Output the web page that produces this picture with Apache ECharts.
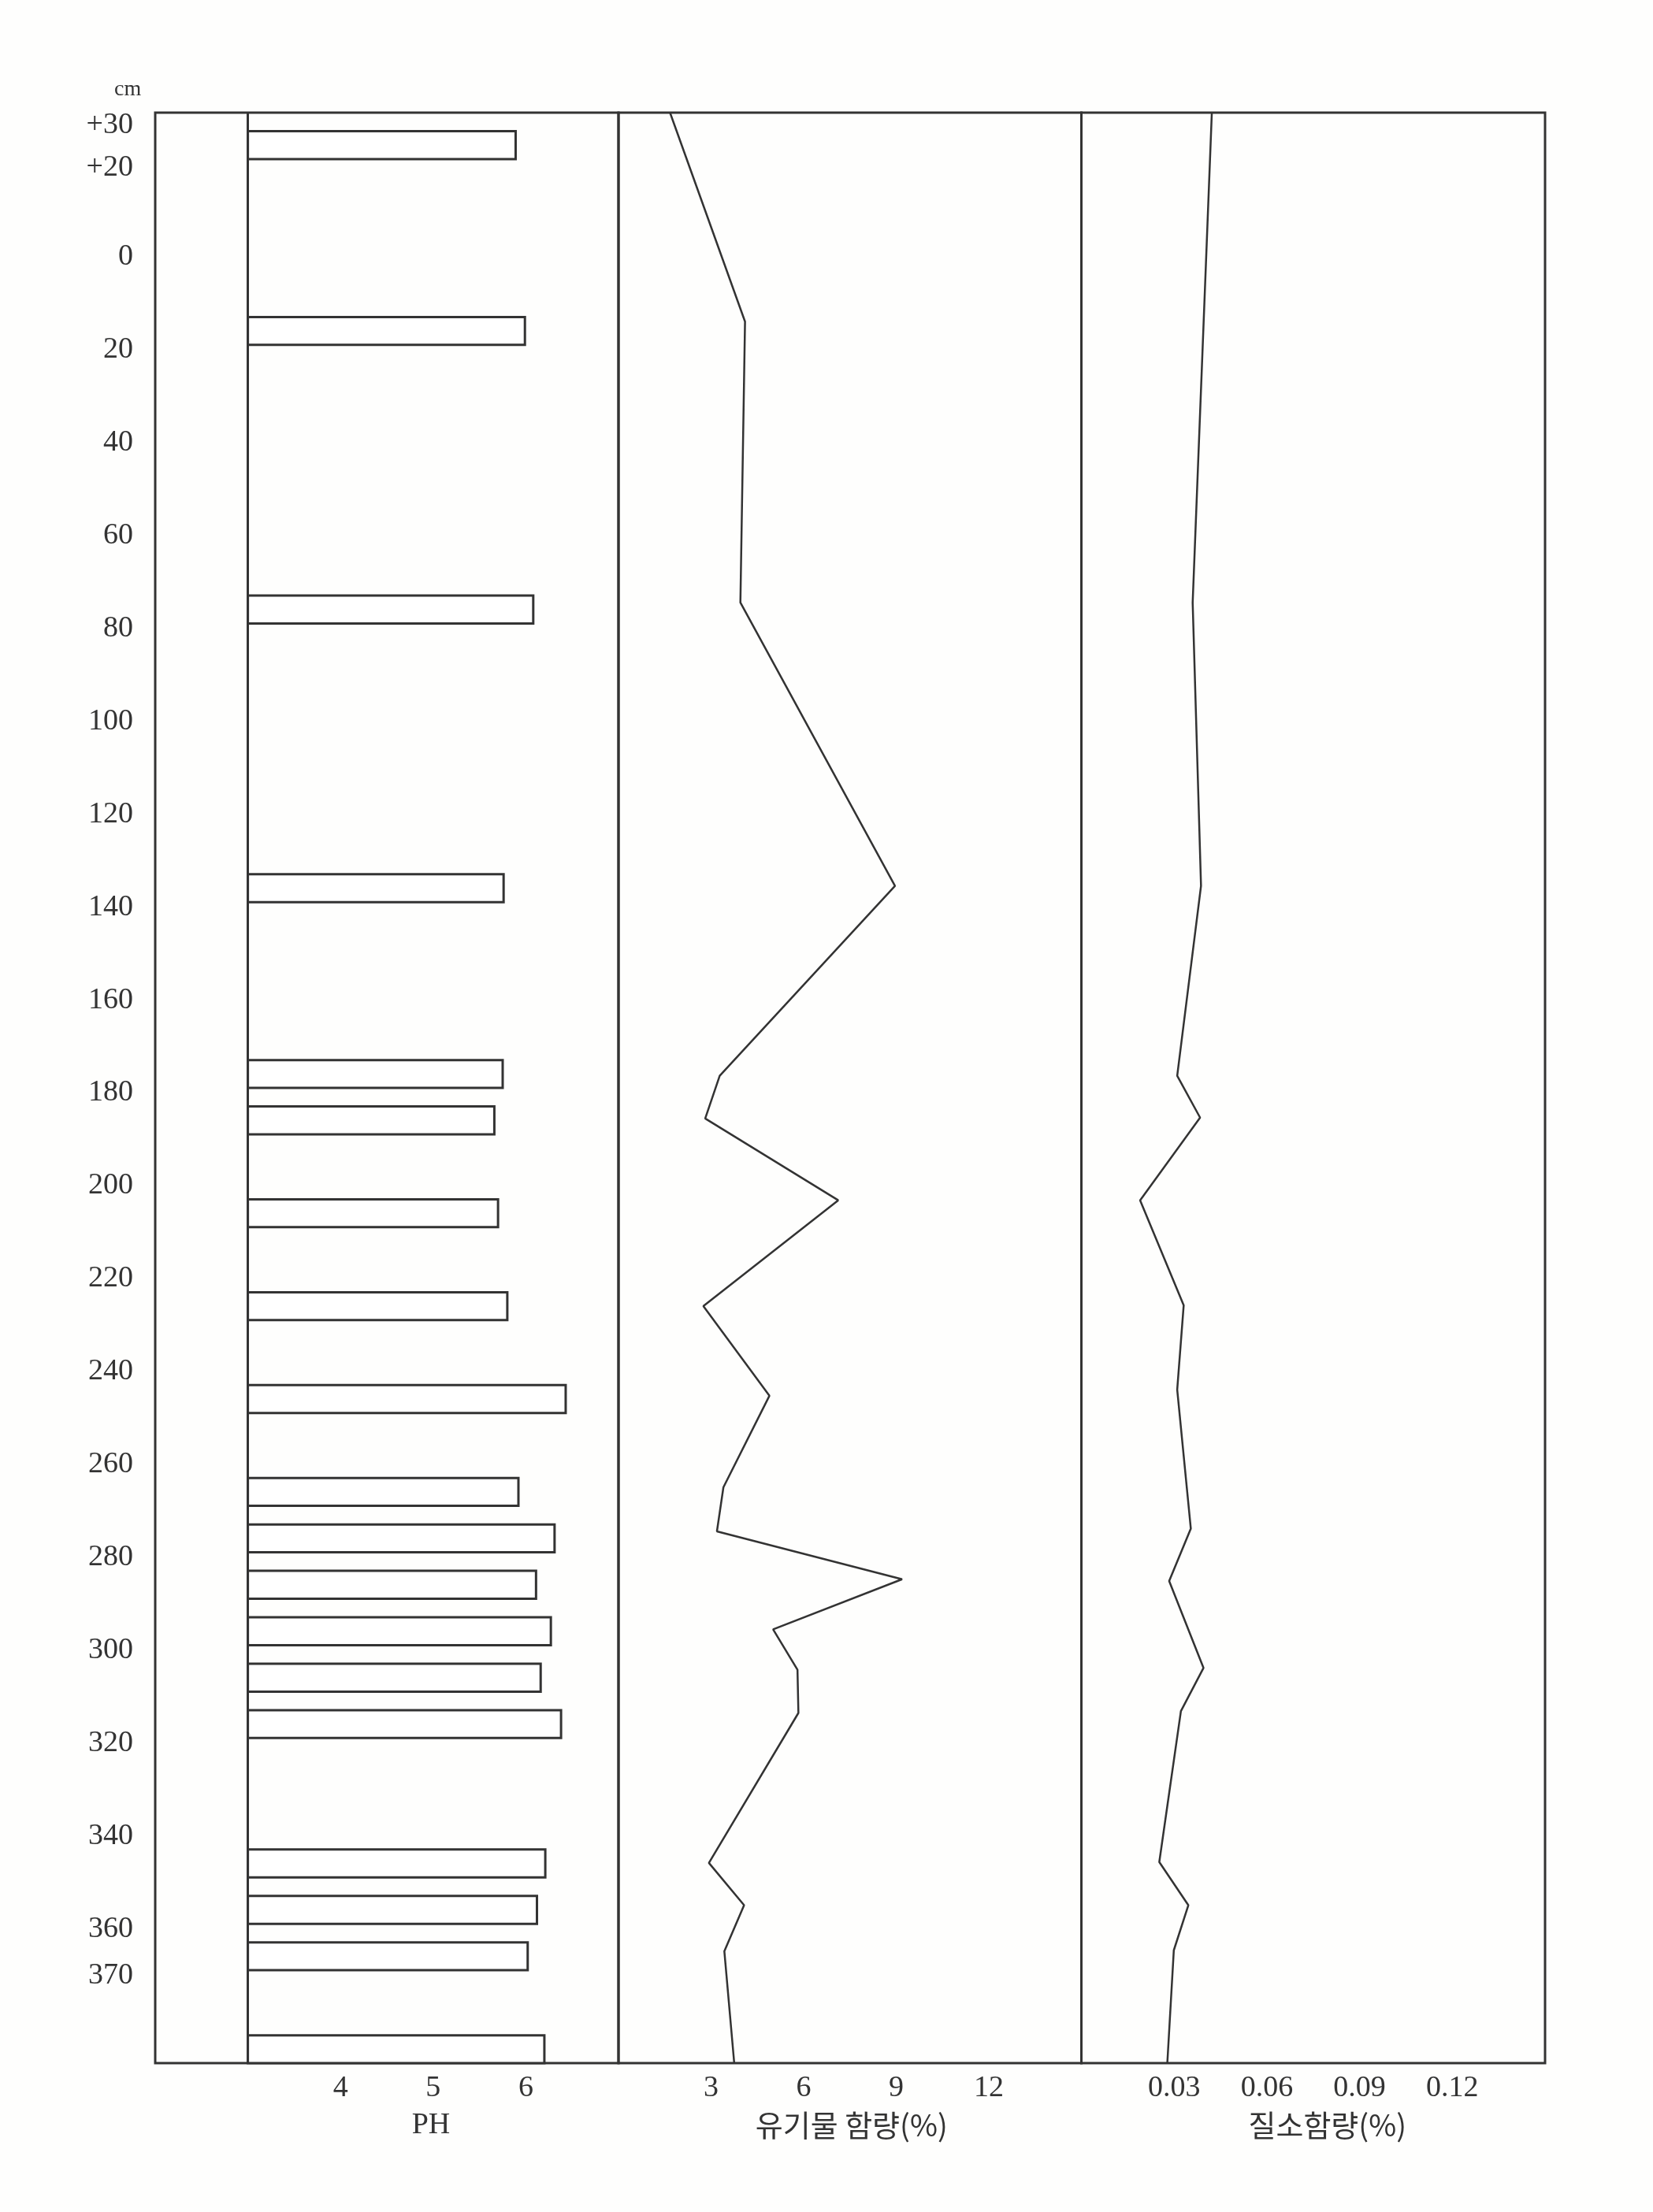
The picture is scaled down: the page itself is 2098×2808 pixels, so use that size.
<!DOCTYPE html>
<html>
<head>
<meta charset="utf-8">
<script src="https://cdn.jsdelivr.net/npm/echarts@6/dist/echarts.min.js"></script>
<style>
html,body{margin:0;padding:0;background:#fefefd;}
#chart{width:2098px;height:2808px;}
</style>
</head>
<body>
<div id="chart"></div>
<script>
// ---- Depth axis (cm; negative = above surface, shown as "+") ----
var depthMin = -30;
var depthMax = 390;
var depthTickLabels = [-30, -20, 0, 20, 40, 60, 80, 100, 120, 140, 160, 180, 200, 220, 240, 260, 280, 300, 320, 340, 360, 370];

// ---- PH samples (bars) ----
var phBase = 3;
var sampleTop    = [-26, 14, 74, 134, 174, 184, 204, 224, 244, 264, 274, 284, 294, 304, 314, 344, 354, 364, 384];
var sampleBottom = [-20, 20, 80, 140, 180, 190, 210, 230, 250, 270, 280, 290, 300, 310, 320, 350, 360, 370, 390];
var phValues     = [5.89, 5.99, 6.08, 5.76, 5.75, 5.66, 5.70, 5.80, 6.43, 5.92, 6.31, 6.11, 6.27, 6.16, 6.38, 6.21, 6.12, 6.02, 6.20];
var phTicks = [4, 5, 6];

// ---- Organic matter content (%) ----
var omDepth  = [-30, 15, 75.5, 136.5, 177.4, 186.6, 204.2, 227, 246.3, 266, 275.5, 285.8, 296.6, 305.3, 314.6, 346.9, 356, 365.9, 390];
var omValues = [1.67, 4.10, 3.95, 8.96, 3.28, 2.81, 7.12, 2.75, 4.89, 3.40, 3.19, 9.19, 5.01, 5.80, 5.83, 2.93, 4.07, 3.43, 3.75];
var omTicks = [3, 6, 9, 12];

// ---- Nitrogen content (%) ----
var nDepth  = [-30, 75.5, 136.5, 177.4, 186.4, 204.2, 226.8, 245, 274.9, 286.2, 304.9, 314.2, 346.7, 356, 365.7, 390];
var nValues = [0.0422, 0.036, 0.0387, 0.031, 0.0384, 0.019, 0.0331, 0.031, 0.0354, 0.0284, 0.0395, 0.0322, 0.0252, 0.0346, 0.0299, 0.0278];
var nTicks = [0.03, 0.06, 0.09, 0.12];

var ink = '#333333';
var serif = '"Liberation Serif", "DejaVu Serif", serif';
var kr = '"Noto Sans CJK KR", "Noto Sans", sans-serif';

var barData = sampleTop.map(function (t, i) { return [phBase, t, phValues[i], sampleBottom[i]]; });
var omData = omDepth.map(function (d, i) { return [omValues[i], d]; });
var nData = nDepth.map(function (d, i) { return [nValues[i], d]; });

var gridCommon = { top: 143, bottom: 189, show: true, borderColor: ink, borderWidth: 3, backgroundColor: 'transparent' };

function labelRich(pad) {
  return { fontFamily: serif, fontSize: 38, color: ink, padding: [pad, 0, 0, 0] };
}

function yAxisDef(idx, showLabels) {
  return {
    type: 'value', gridIndex: idx, min: depthMin, max: depthMax, inverse: true,
    axisLine: { show: false }, axisTick: { show: false }, splitLine: { show: false },
    axisLabel: {
      show: showLabels, customValues: depthTickLabels, margin: 28,
      fontFamily: serif, fontSize: 38, color: ink,
      formatter: function (v) {
        if (v === -30) return '{t|+30}';
        if (v === -20) return '{u|+20}';
        return '{n|' + v + '}';
      },
      rich: { t: labelRich(33), u: labelRich(22), n: labelRich(13) }
    }
  };
}

function xAxisDef(idx, min, max, ticks, name, nameFont, namePad, fmt) {
  return {
    type: 'value', gridIndex: idx, min: min, max: max,
    axisLine: { show: false }, axisTick: { show: false }, splitLine: { show: false },
    axisLabel: {
      customValues: ticks, margin: 13, fontFamily: serif, fontSize: 38, color: ink,
      formatter: fmt || function (v) { return String(v); }
    },
    name: name, nameLocation: 'middle', nameGap: 60,
    nameTextStyle: { fontFamily: nameFont, fontSize: 38, color: ink, padding: namePad }
  };
}

var chart = echarts.init(document.getElementById('chart'), null, { renderer: 'canvas' });
chart.setOption({
  backgroundColor: '#fefefd',
  animation: false,
  grid: [
    Object.assign({ left: 197, width: 588 }, gridCommon),
    Object.assign({ left: 785, width: 587.5 }, gridCommon),
    Object.assign({ left: 1372.5, width: 588.5 }, gridCommon)
  ],
  xAxis: [
    xAxisDef(0, 2, 7, phTicks, 'PH', serif, [0, 0, 0, 112]),
    xAxisDef(1, 0, 15, omTicks, '유기물 함량(%)', kr, [0, 0, 0, 4]),
    xAxisDef(2, 0, 0.15, nTicks, '질소함량(%)', kr, [0, 0, 0, 36], function (v) { return v.toFixed(2); })
  ],
  yAxis: [yAxisDef(0, true), yAxisDef(1, false), yAxisDef(2, false)],
  graphic: [
    { type: 'text', left: 145, top: 100, style: { text: 'cm', fontFamily: serif, fontSize: 28, fill: ink } }
  ],
  series: [
    {
      type: 'custom', xAxisIndex: 0, yAxisIndex: 0,
      encode: { x: [0, 2], y: [1, 3] },
      data: barData,
      renderItem: function (params, api) {
        var p0 = api.coord([api.value(0), api.value(1)]);
        var p1 = api.coord([api.value(2), api.value(3)]);
        return {
          type: 'rect',
          shape: { x: p0[0], y: p0[1], width: p1[0] - p0[0], height: p1[1] - p0[1] },
          style: { fill: '#ffffff', stroke: ink, lineWidth: 3 }
        };
      },
      markLine: {
        silent: true, symbol: ['none', 'none'], label: { show: false },
        lineStyle: { color: ink, width: 3, type: 'solid' },
        data: [{ xAxis: phBase }]
      }
    },
    {
      type: 'line', xAxisIndex: 1, yAxisIndex: 1, data: omData,
      symbol: 'none', lineStyle: { color: ink, width: 2.5 }
    },
    {
      type: 'line', xAxisIndex: 2, yAxisIndex: 2, data: nData,
      symbol: 'none', lineStyle: { color: ink, width: 2.5 }
    }
  ]
});
</script>
</body>
</html>
